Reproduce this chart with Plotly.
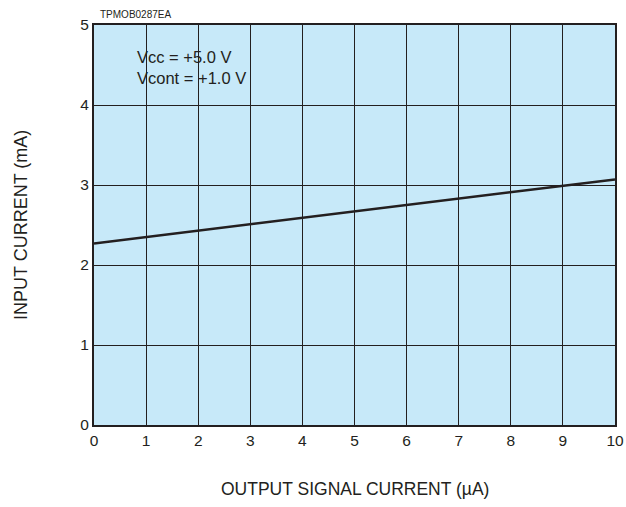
import plotly.graph_objects as go

# Input current vs. output signal current
signal_current_uA = [0, 5, 10]
input_current_mA = [2.27, 2.67, 3.07]

x_ticks = [0, 1, 2, 3, 4, 5, 6, 7, 8, 9, 10]
y_ticks = [0, 1, 2, 3, 4, 5]

FONT = "Liberation Sans, Arial, sans-serif"
INK = "#231f20"

fig = go.Figure()
fig.add_trace(go.Scatter(
    x=signal_current_uA, y=input_current_mA, mode="lines",
    line=dict(color=INK, width=2.5), showlegend=False,
))

axis_common = dict(
    showgrid=True, gridcolor=INK, gridwidth=1,
    showline=True, linecolor=INK, linewidth=2, mirror=True,
    ticks="", zeroline=False, automargin=False,
    tickfont=dict(family=FONT, size=15.5, color=INK),
)

fig.update_layout(
    width=626, height=507,
    margin=dict(l=94, r=11, t=25, b=82, autoexpand=False),
    plot_bgcolor="#c7e9f9", paper_bgcolor="white",
    xaxis=dict(range=[0, 10], tickvals=x_ticks, **axis_common),
    yaxis=dict(range=[0, 5], tickvals=y_ticks, **axis_common),
    annotations=[
        dict(text="OUTPUT SIGNAL CURRENT (µA)", xref="paper", yref="paper",
             x=0.5, y=0, xanchor="center", yanchor="middle", yshift=-64,
             showarrow=False, font=dict(family=FONT, size=17.5, color=INK)),
        dict(text="INPUT CURRENT (mA)", xref="paper", yref="paper",
             x=0, y=0.5, xanchor="center", yanchor="middle", xshift=-73,
             textangle=-90, showarrow=False,
             font=dict(family=FONT, size=18, color=INK)),
        dict(text="TPMOB0287EA", xref="paper", yref="paper", x=0, y=1.0,
             xanchor="left", yanchor="middle", xshift=4, yshift=11,
             showarrow=False, font=dict(family=FONT, size=10, color=INK)),
        dict(text="Vcc = +5.0 V<br>Vcont = +1.0 V", xref="x", yref="y",
             x=0.78, y=4.74, xanchor="left", yanchor="top", align="left",
             showarrow=False, font=dict(family=FONT, size=16.5, color=INK)),
    ],
)

fig.write_html("out.html")
